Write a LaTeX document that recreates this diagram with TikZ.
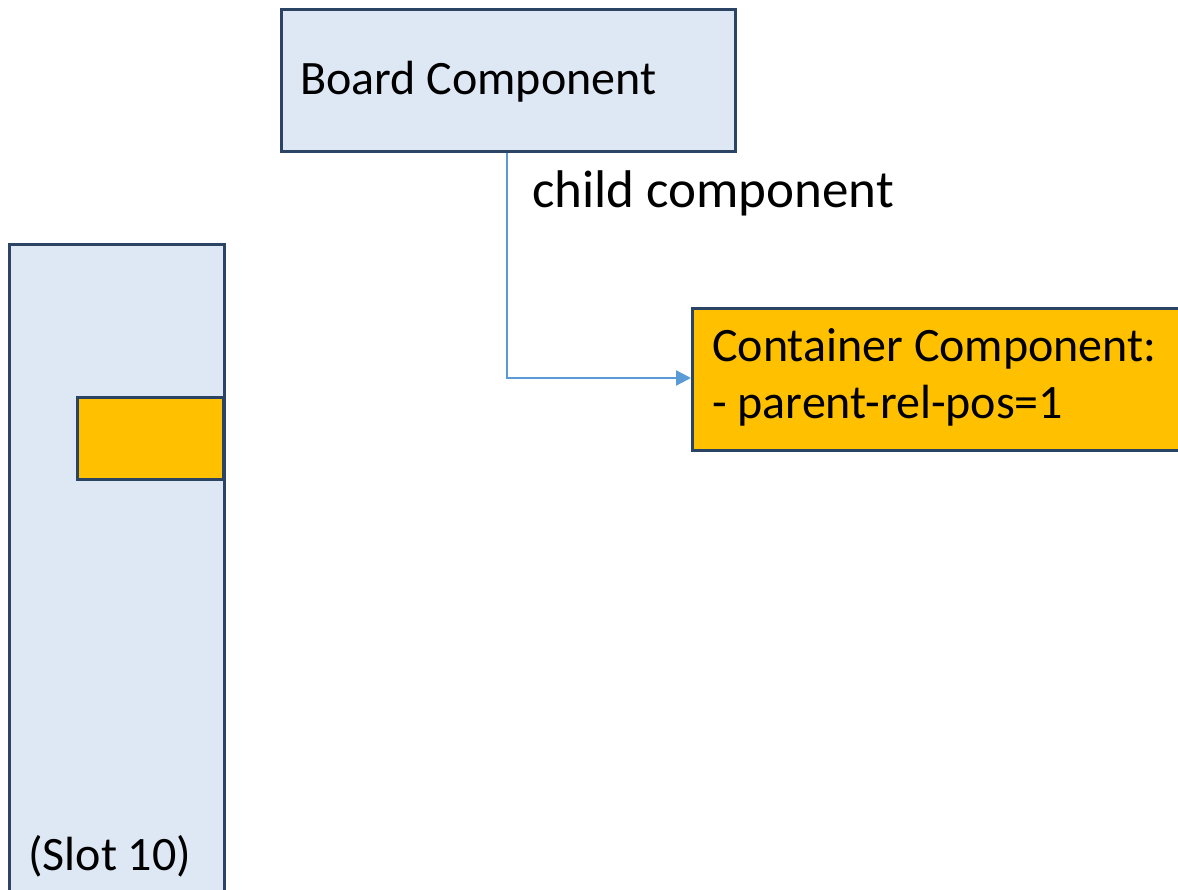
\documentclass[tikz,border=0pt]{standalone}
\usepackage{fontspec}
\setmainfont{Carlito}
\usetikzlibrary{arrows.meta}
\definecolor{paleblue}{HTML}{DEE8F4}
\definecolor{edgeblue}{HTML}{2B4463}
\definecolor{amber}{HTML}{FFC000}
\definecolor{linkblue}{HTML}{5B9BD5}
\tikzset{
  box/.style={draw=edgeblue, line width=2.8pt, rectangle, inner sep=0pt, anchor=north west},
  compbox/.style={box, fill=paleblue},
  slotbox/.style={box, fill=amber},
  label/.style={anchor=base west, inner sep=0pt, font=\fontsize{48}{56}\selectfont},
  biglabel/.style={label, font=\fontsize{53}{60}\selectfont},
  link/.style={draw=linkblue, line width=2.4pt, -{Triangle[length=15pt,width=15pt]}}
}
\begin{document}
\begin{tikzpicture}[x=1pt,y=-1pt]
  \useasboundingbox (0,0) rectangle (1178,890);
  % board with its child container
  \node[compbox, minimum width=454pt, minimum height=142pt] (board) at (280,8) {};
  \node[label] (boardtxt) at (300,95) {Board Component};
  \node[slotbox, minimum width=520pt, minimum height=142pt] (cont) at (691,307) {};
  \node[label] (conttxt) at (712,362) {Container Component:};
  \node[label] (conttxt2) at (712,418) {- parent-rel-pos=1};
  \coordinate (bend) at (507,378);
  \draw[link] (board.south -| bend) -- (bend) -- (bend -| cont.west);
  \node[biglabel] (childtxt) at (532,208) {child component};
  % slot column
  \node[compbox, minimum width=215pt, minimum height=700pt] (slot) at (8,243) {};
  \node[slotbox, minimum width=146pt, minimum height=82pt] (slotpos) at (76,396) {};
  \node[label] (slottxt) at (28,870) {(Slot 10)};
\end{tikzpicture}
\end{document}
